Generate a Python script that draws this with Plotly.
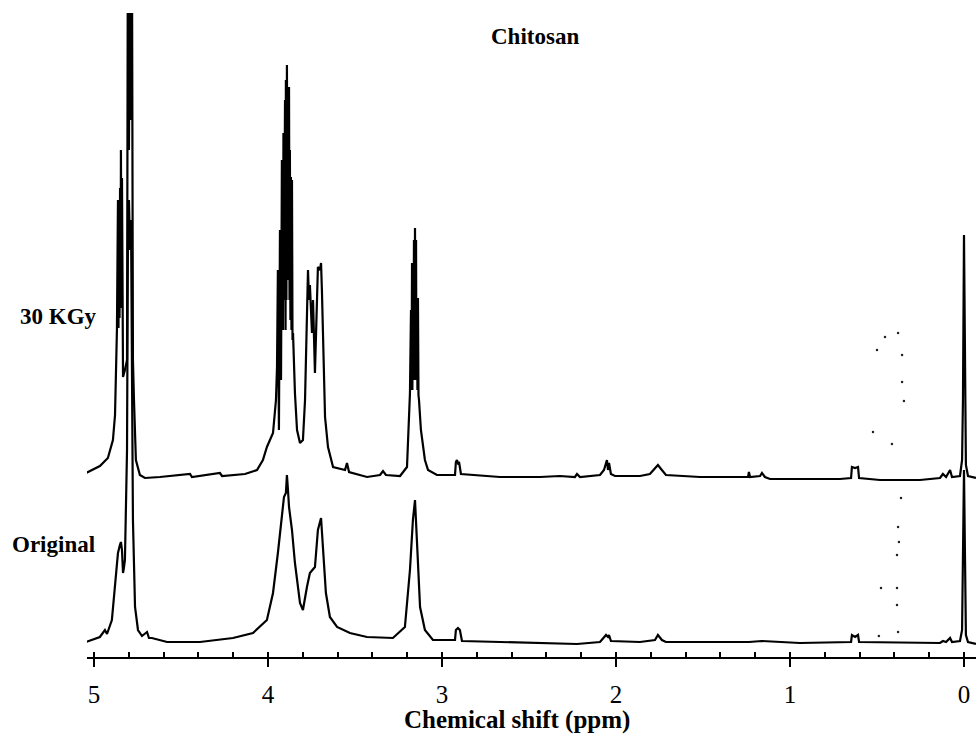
import plotly.graph_objects as go

# ---- data (ppm, intensity a.u. above own baseline) ----
irr_ppm = [5.046, 4.966, 4.920, 4.891, 4.879, 4.874, 4.868, 4.862, 4.859, 4.856, 4.853, 4.850,
           4.847, 4.845, 4.842, 4.839, 4.833,
           4.822, 4.810, 4.805, 4.799, 4.793, 4.787, 4.782, 4.776, 4.770, 4.759, 4.736, 4.707,
           4.621, 4.448, 4.437, 4.276, 4.264, 4.132, 4.063, 4.029, 4.006, 3.989, 3.971, 3.954,
           3.948, 3.943, 3.937, 3.931, 3.925, 3.920, 3.914, 3.911, 3.908, 3.902, 3.899, 3.897,
           3.894, 3.891, 3.888, 3.885, 3.882, 3.879, 3.876, 3.874, 3.871, 3.868, 3.865, 3.862,
           3.859, 3.856, 3.845, 3.833, 3.816, 3.799, 3.787, 3.776, 3.770, 3.764,
           3.759, 3.747, 3.741, 3.730, 3.724, 3.713, 3.701, 3.695, 3.690, 3.684, 3.672, 3.655,
           3.626, 3.557, 3.546, 3.534, 3.431, 3.356, 3.339, 3.322, 3.241, 3.201, 3.184, 3.178,
           3.175, 3.172, 3.170, 3.167, 3.164, 3.161, 3.158, 3.155, 3.152, 3.149, 3.147, 3.144,
           3.141, 3.138, 3.135, 3.132, 3.121, 3.109, 3.098, 3.080,
           3.029, 2.925, 2.920, 2.914, 2.908, 2.902, 2.891, 2.667, 2.437, 2.322, 2.236, 2.224,
           2.207, 2.092, 2.069, 2.052, 2.046, 2.040, 2.029, 2.006, 1.862, 1.805, 1.776, 1.759,
           1.741, 1.713, 1.517, 1.241, 1.236, 1.230, 1.172, 1.161, 1.144, 1.115, 0.713, 0.649,
           0.644, 0.626, 0.609, 0.603, 0.483, 0.253, 0.138, 0.121, 0.103, 0.080, 0.069, 0.023,
           0.011, 0.006, 0.000, -0.006, -0.011, -0.023, -0.069]
irr_int = [5, 12, 20, 38, 63, 108, 148, 278, 150, 278, 160, 290,
           170, 328, 178, 300, 101,
           108, 118, 560, 328, 560, 358, 560, 118, 78, 18, 3, 0,
           1, 4, 1, 5, 2, 4, 8, 18, 31, 38, 45, 78,
           111, 208, 48, 248, 98, 318, 148, 345, 178, 378, 148, 398,
           178, 413, 228, 388, 198, 391, 178, 328, 158, 301, 148, 298,
           138, 145, 85, 48, 35, 38, 78, 161, 208, 178,
           193, 145, 178, 105, 148, 211, 208, 215, 188, 145, 61, 31,
           11, 8, 15, 6, 1, 3, 7, 3, 2, 11, 85, 168,
           88, 215, 88, 215, 98, 238, 98, 250, 98, 238, 98, 180,
           88, 180, 83, 78, 48, 31, 18, 8,
           3, 3, 16, 18, 15, 16, 4, 1, 1, 2, 1, 4,
           1, 3, 8, 18, 8, 15, 4, 2, 2, 4, 10, 13,
           9, 3, 1, 1, 6, 1, 2, 5, 1, -1, -1, 0,
           11, 10, 11, 0, -2, -2, 0, 4, 1, 8, 1, 2,
           18, 78, 243, 78, 13, 2, 0]

orig_ppm = [5.046, 4.966, 4.937, 4.925, 4.897, 4.879, 4.868, 4.862, 4.851, 4.845, 4.839, 4.833,
            4.828, 4.822, 4.810, 4.805, 4.799, 4.793, 4.787, 4.782, 4.776, 4.764, 4.747, 4.724,
            4.695, 4.684, 4.667, 4.580, 4.391, 4.201, 4.086, 4.006, 3.971, 3.943, 3.920, 3.908,
            3.897, 3.891, 3.885, 3.879, 3.862, 3.845, 3.816, 3.799, 3.776, 3.759, 3.730, 3.713,
            3.695, 3.684, 3.667, 3.644, 3.603, 3.529, 3.431, 3.282, 3.213, 3.184, 3.167, 3.155,
            3.144, 3.126, 3.098, 3.052, 2.925, 2.920, 2.908, 2.897, 2.885, 2.667, 2.224, 2.092,
            2.063, 2.057, 2.046, 2.040, 2.029, 1.862, 1.776, 1.759, 1.736, 1.713, 1.236, 1.161,
            0.943, 0.649, 0.644, 0.626, 0.609, 0.603, 0.138, 0.121, 0.103, 0.080, 0.069, 0.023,
            0.011, 0.006, 0.000, -0.006, -0.011, -0.023, -0.069]
orig_int = [1, 6, 13, 9, 23, 56, 83, 90, 98, 101, 93, 70,
            75, 83, 193, 393, 443, 393, 423, 243, 123, 36, 13, 7,
            11, 5, 5, 1, 1, 5, 10, 23, 50, 90, 123, 146,
            150, 168, 153, 136, 113, 80, 40, 33, 56, 70, 76, 113,
            125, 96, 50, 26, 16, 10, 6, 5, 16, 73, 123, 143,
            100, 36, 13, 3, 3, 13, 15, 13, 2, 1, -1, 1,
            6, 8, 6, 8, 2, 1, 3, 8, 3, 1, 1, 2,
            0, 1, 8, 6, 8, 1, 0, 2, 1, 5, 1, 2,
            13, 83, 173, 83, 8, 1, -1]

# vertical offsets of the stacked spectra (a.u.)
offset_irr = 179
offset_orig = 14

# stray dots in the scanned figure (ppm, absolute a.u.)
dot_ppm = [0.454, 0.379, 0.500, 0.356, 0.356, 0.345, 0.523, 0.414, 0.362, 0.379, 0.374,
           0.385, 0.477, 0.385, 0.385, 0.489, 0.379]
dot_int = [320, 324, 307, 302, 275, 256, 225, 213, 159, 130, 115,
           102, 69, 69, 52, 21, 25]

tick_vals = [5, 4, 3, 2, 1, 0]
tick_text = ["5", "4", "3", "2", "1", "0"]

SERIF = "Liberation Serif, Times New Roman, serif"

fig = go.Figure()
fig.add_trace(go.Scatter(x=irr_ppm, y=[v + offset_irr for v in irr_int], mode="lines",
                         line=dict(color="black", width=2.2), name="30 KGy"))
fig.add_trace(go.Scatter(x=orig_ppm, y=[v + offset_orig for v in orig_int], mode="lines",
                         line=dict(color="black", width=2.2), name="Original"))
fig.add_trace(go.Scatter(x=dot_ppm, y=dot_int, mode="markers",
                         marker=dict(color="#222", size=2.5), name="dots"))

def label(text, x, y, size):
    return dict(text=text, x=x, y=y, xref="paper", yref="paper",
                xanchor="center", yanchor="middle", showarrow=False,
                font=dict(family=SERIF, size=size, color="black"))

fig.update_layout(
    width=976, height=741,
    margin=dict(l=87, r=0, t=13, b=84),
    paper_bgcolor="white", plot_bgcolor="white",
    showlegend=False,
    font=dict(family=SERIF, color="black"),
    xaxis=dict(range=[5.04, -0.069], showgrid=False, zeroline=False,
               showline=True, linecolor="black", linewidth=2,
               tickmode="array", tickvals=tick_vals, ticktext=tick_text,
               ticks="outside", ticklen=8, tickwidth=2, tickcolor="black",
               ticklabelstandoff=6,
               tickfont=dict(family=SERIF, size=25, color="black"),
               minor=dict(dtick=0.2, tick0=0, ticks="inside", ticklen=5,
                          tickwidth=2, tickcolor="black")),
    yaxis=dict(range=[0, 644], visible=False, showgrid=False, zeroline=False),
    annotations=[
        label("<b>Chitosan</b>", 0.504, 0.963, 23),
        label("<b>30 KGy</b>", -0.0315, 0.528, 23),
        label("<b>Original</b>", -0.038, 0.174, 23),
        label("<b>Chemical shift (ppm)</b>", 0.484, -0.098, 25),
    ],
)

fig.write_html("out.html")
